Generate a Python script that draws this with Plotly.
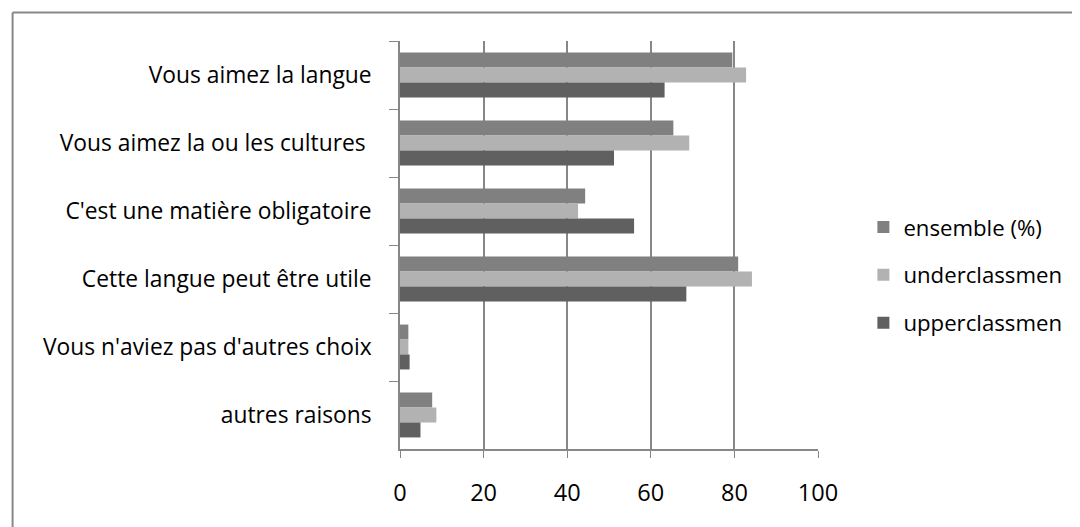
import plotly.graph_objects as go

categories = [
    "Vous aimez la langue",
    "Vous aimez la ou les cultures ",
    "C'est une matière obligatoire",
    "Cette langue peut être utile",
    "Vous n'aviez pas d'autres choix",
    "autres raisons",
]
series_names = ["ensemble (%)", "underclassmen", "upperclassmen"]
ensemble = [79.5, 65.4, 44.3, 80.9, 2.0, 7.7]
underclassmen = [82.8, 69.2, 42.6, 84.2, 2.0, 8.7]
upperclassmen = [63.3, 51.2, 56.0, 68.5, 2.3, 4.9]
x_ticks = [0, 20, 40, 60, 80, 100]

colors = ["#808080", "#b2b2b2", "#606060"]
FONT = "Open Sans"
OFF = 8  # default page body margin of the written html
W, H = 1080 - OFF, 527 - OFF
L, T = 399.5 - OFF, 41 - OFF
R = W - (820.3 - OFF)
B = H - (449 - OFF)
pw, ph = W - L - R, H - T - B

def px_x(p):
    return (p - OFF - L) / pw

def px_y(p):
    return (H - B - (p - OFF)) / ph

fig = go.Figure()
for name, vals, col in zip(series_names, [ensemble, underclassmen, upperclassmen], colors):
    fig.add_trace(go.Bar(
        y=categories, x=vals, name=name, orientation="h",
        marker=dict(color=col, line=dict(width=0)),
        legendgroup=name,
    ))

fig.update_layout(
    width=W, height=H,
    margin=dict(l=L, r=R, t=T, b=B, pad=0),
    paper_bgcolor="white", plot_bgcolor="white",
    barmode="group", bargap=0.34, bargroupgap=0,
    font=dict(family=FONT, size=22, color="#000000"),
    legend=dict(
        x=px_x(866), xanchor="left", y=px_y(275), yanchor="middle",
        traceorder="grouped", tracegroupgap=16,
        font=dict(family=FONT, size=22.2, color="#000000"),
        itemwidth=30, bgcolor="rgba(0,0,0,0)",
    ),
    xaxis=dict(
        range=[0, 100], tickvals=x_ticks, ticktext=[str(v) for v in x_ticks],
        showgrid=True, gridcolor="#878787", gridwidth=1.6,
        showline=True, linecolor="#878787", linewidth=1.6,
        ticks="outside", ticklen=7, tickcolor="#878787", tickwidth=1.3,
        ticklabelstandoff=15, zeroline=False,
        tickfont=dict(family=FONT, size=23.5, color="#000000"),
    ),
    yaxis=dict(
        autorange="reversed", type="category",
        showline=True, linecolor="#878787", linewidth=1.6,
        ticks="outside", ticklen=9, tickcolor="#878787", tickwidth=1.3,
        tickson="boundaries", ticklabelstandoff=22, showgrid=False,
        tickfont=dict(family=FONT, size=22.8, color="#000000"),
    ),
    shapes=[
        dict(type="line", xref="paper", yref="paper",
             x0=px_x(9.5), x1=px_x(1090), y0=px_y(12.5), y1=px_y(12.5),
             line=dict(color="#888888", width=2)),
        dict(type="line", xref="paper", yref="paper",
             x0=px_x(9.5), x1=px_x(9.5), y0=px_y(12.5), y1=px_y(540),
             line=dict(color="#888888", width=2)),
    ],
)

fig.write_html("out.html")
